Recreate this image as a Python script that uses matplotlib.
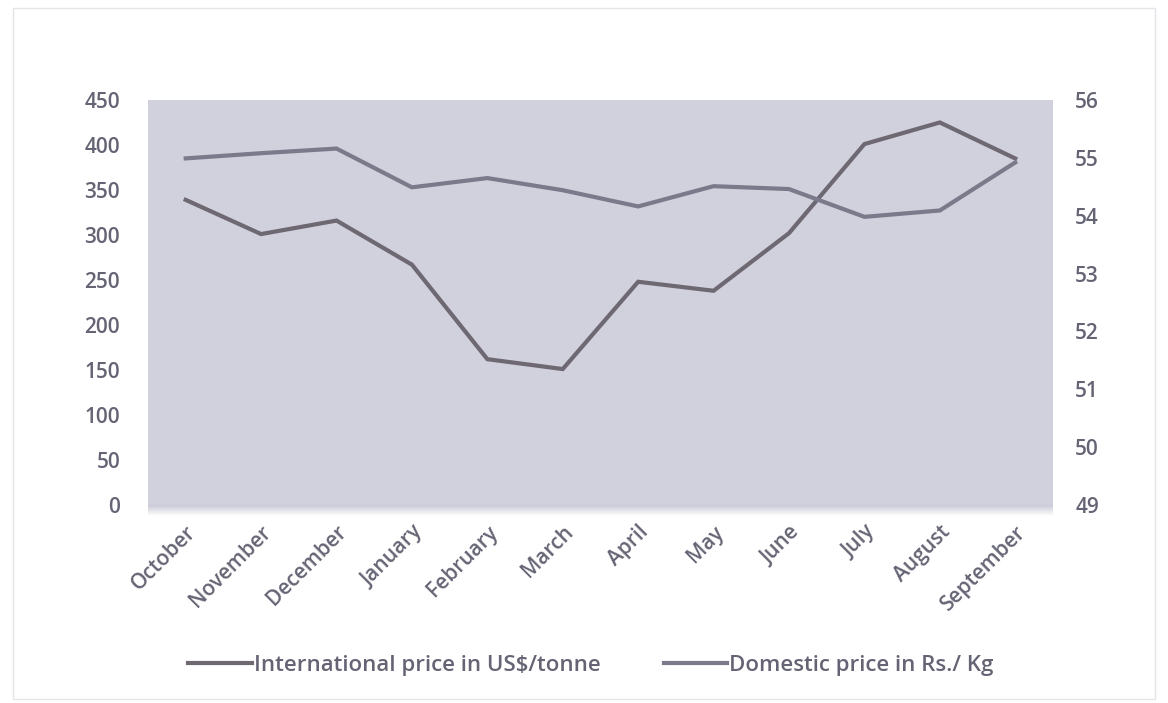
import matplotlib
matplotlib.use("Agg")
import matplotlib.pyplot as plt
from matplotlib.patches import Rectangle
import numpy as np

months = ["October", "November", "December", "January", "February", "March",
          "April", "May", "June", "July", "August", "September"]
intl_price = [339, 301, 316, 267, 162, 151, 248, 238, 302, 401, 425, 385]
dom_price = [54.99, 55.08, 55.16, 54.49, 54.65, 54.44, 54.16, 54.51, 54.46, 53.98, 54.09, 54.92]

plt.rcParams["font.family"] = ["Open Sans", "DejaVu Sans"]
plt.rcParams["font.weight"] = "semibold"
txt = "#646474"
fs = 15

fig = plt.figure(figsize=(11.68, 7.03), dpi=100)
fig.patch.set_facecolor("white")
# faint outer frame
fig.add_artist(Rectangle((0.011, 0.006), 0.978, 0.982, transform=fig.transFigure,
                         fill=False, edgecolor="#e4e4ea", linewidth=1.0))

ax = fig.add_axes([0.1267, 0.2817, 0.7748, 0.5761])
ax.set_facecolor("#d0d1dd")
x = np.arange(len(months))
ax.plot(x, intl_price, color="#6d6872", linewidth=3.0, solid_joinstyle="miter",
        label="International price in US$/tonne")
ax.set_xlim(-0.5, len(months) - 0.5)
ax.set_ylim(0, 450)
ax.set_yticks(np.arange(0, 451, 50))
ax.set_xticks(x, months, rotation=45, ha="right", rotation_mode="anchor")
for s in ax.spines.values():
    s.set_visible(False)
ax.tick_params(length=0, labelsize=fs, labelcolor=txt, pad=20)
ax.tick_params(axis="x", pad=12)

ax2 = ax.twinx()
ax2.plot(x, dom_price, color="#7a7a8a", linewidth=3.0, solid_joinstyle="miter",
         label="Domestic price in Rs./ Kg")
ax2.set_ylim(49, 56)
ax2.set_yticks(np.arange(49, 57, 1))
for s in ax2.spines.values():
    s.set_visible(False)
ax2.tick_params(length=0, labelsize=fs, labelcolor=txt, pad=16)

# soft shadow under the plot area
grad = np.linspace(0, 1, 50).reshape(-1, 1)
sh = fig.add_axes([0.1267, 0.266, 0.7748, 0.016])
sh.imshow(grad, aspect="auto", cmap=matplotlib.colors.LinearSegmentedColormap.from_list(
    "sh", ["#c4c5d3", "#ffffff"]), extent=(0, 1, 1, 0))
sh.axis("off")

h1, l1 = ax.get_legend_handles_labels()
h2, l2 = ax2.get_legend_handles_labels()
fig.legend(h1 + h2, l1 + l2, loc="center", bbox_to_anchor=(0.506, 0.054), ncol=2,
           frameon=False, fontsize=16, labelcolor=txt, handlelength=2.85,
           handletextpad=0.1, columnspacing=2.85)

fig.savefig("out.png", dpi=100)
